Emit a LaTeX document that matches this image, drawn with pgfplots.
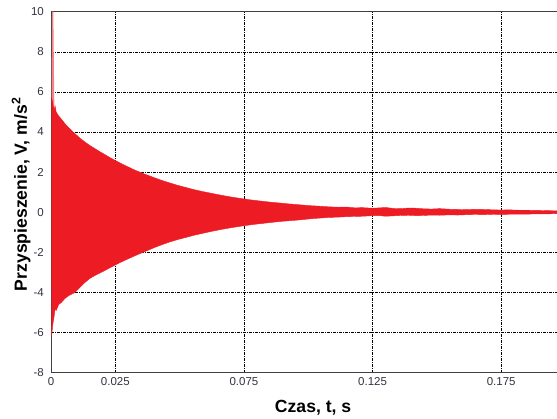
\documentclass[border=0pt]{standalone}
\usepackage{fontspec}
\setmainfont{Liberation Sans}
\usepackage{pgfplots}
\pgfplotsset{compat=1.18}
\definecolor{sigred}{RGB}{237,28,36}
\definecolor{ticktext}{RGB}{50,52,64}
\begin{document}
\begin{tikzpicture}
\begin{axis}[
  at={(51pt,46.3pt)}, anchor=south west,
  scale only axis,
  width=506pt, height=361pt,
  xmin=0, xmax=0.1967,
  ymin=-8, ymax=10,
  axis x line=box, axis y line=left,
  axis line style={-, line width=1pt, draw=black!75},
  xtick={0,0.025,0.075,0.125,0.175},
  xticklabels={0,0.025,0.075,0.125,0.175},
  ytick={-8,-6,-4,-2,0,2,4,6,8,10},
  yticklabels={-8,-6,-4,-2,0,2,4,6,8,10},
  major tick length=0pt,
  grid=major,
  major grid style={black, line width=0.6pt, dash pattern=on 3pt off 1pt on 1pt off 1pt},
  tick label style={font=\fontsize{11.5}{12}\selectfont, text=ticktext, inner sep=0pt},
  xticklabel style={anchor=north, yshift=-5pt},
  yticklabel style={anchor=east, xshift=-7pt},
  /pgf/number format/assume math mode=true,
  xlabel={Czas, t, s},
  ylabel={Przyspieszenie, V, m/s\textsuperscript{2}},
  xlabel style={at={(axis description cs:0.518,0)}, anchor=north, yshift=-27pt, inner sep=0pt, font=\fontsize{17.6}{18}\selectfont\bfseries},
  ylabel style={at={(axis description cs:-0.0777,0.494)}, anchor=north, inner sep=0pt, font=\fontsize{17.6}{18}\selectfont\bfseries},
]
% envelope of the decaying oscillation (upper forward, lower backward)
\addplot[fill=sigred, draw=sigred, line width=0.4pt] coordinates {
(0.0002,5.8) (0.0007,5.67) (0.0012,5.1) (0.0016,5.3) (0.002,5.0) (0.003,4.8)
(0.004,4.65) (0.0054,4.42) (0.007,4.2) (0.0093,3.92) (0.0112,3.7) (0.0132,3.5)
(0.0151,3.33) (0.0171,3.17) (0.019,3.02) (0.021,2.87) (0.023,2.72) (0.025,2.58)
(0.027,2.45) (0.029,2.32) (0.0326,2.10) (0.0365,1.90) (0.0404,1.71) (0.0435,1.57)
(0.0462,1.46) (0.049,1.35) (0.052,1.25) (0.0555,1.13) (0.059,1.03) (0.0625,0.94)
(0.0665,0.84) (0.0705,0.75) (0.0746,0.67) (0.078,0.61) (0.082,0.55) (0.0855,0.50)
(0.089,0.46) (0.093,0.41) (0.0968,0.37) (0.1005,0.33) (0.1045,0.30) (0.108,0.27)
(0.112,0.25) (0.115,0.26) (0.118,0.22) (0.121,0.23) (0.125,0.20) (0.128,0.22)
(0.130,0.24) (0.133,0.19) (0.136,0.18) (0.139,0.21) (0.142,0.20) (0.145,0.17)
(0.148,0.16) (0.151,0.18) (0.155,0.15) (0.158,0.14) (0.162,0.13) (0.165,0.15)
(0.168,0.14) (0.172,0.12) (0.175,0.11) (0.178,0.12) (0.182,0.10) (0.186,0.10)
(0.190,0.09) (0.193,0.08) (0.1967,0.07)
(0.1967,-0.07) (0.193,-0.08) (0.190,-0.08) (0.186,-0.09) (0.182,-0.09) (0.178,-0.10)
(0.175,-0.11) (0.172,-0.10) (0.168,-0.12) (0.165,-0.11) (0.162,-0.12) (0.158,-0.14)
(0.155,-0.13) (0.151,-0.15) (0.148,-0.14) (0.145,-0.16) (0.142,-0.17) (0.139,-0.15)
(0.136,-0.16) (0.133,-0.18) (0.130,-0.20) (0.128,-0.17) (0.125,-0.17) (0.121,-0.20)
(0.118,-0.21) (0.115,-0.22) (0.112,-0.24) (0.108,-0.26) (0.1045,-0.29) (0.1005,-0.33)
(0.0968,-0.38) (0.093,-0.42) (0.089,-0.46) (0.0855,-0.51) (0.082,-0.56) (0.078,-0.62)
(0.0746,-0.68) (0.0705,-0.76) (0.0665,-0.85) (0.0625,-0.95) (0.059,-1.05) (0.0555,-1.15)
(0.052,-1.27) (0.049,-1.37) (0.0462,-1.48) (0.0435,-1.60) (0.0404,-1.75) (0.0365,-1.96)
(0.0326,-2.17) (0.029,-2.38) (0.027,-2.5) (0.025,-2.63) (0.023,-2.76) (0.021,-2.9)
(0.019,-3.03) (0.0171,-3.15) (0.0151,-3.3) (0.0132,-3.5) (0.0112,-3.75) (0.0093,-4.0)
(0.007,-4.15) (0.0054,-4.3) (0.004,-4.5) (0.003,-4.6) (0.002,-4.9) (0.0016,-4.8)
(0.0012,-5.2) (0.0007,-5.6) (0.0002,-6.2)
} -- cycle;
% initial transient spike
\addplot[fill=sigred!55, draw=none] coordinates {
(0.0002,5.8) (0.0004,10) (0.0009,10) (0.0013,5.2)
} -- cycle;
\end{axis}
\pgfresetboundingbox
\useasboundingbox (0,0) rectangle (557pt,419pt);
\end{tikzpicture}
\end{document}
